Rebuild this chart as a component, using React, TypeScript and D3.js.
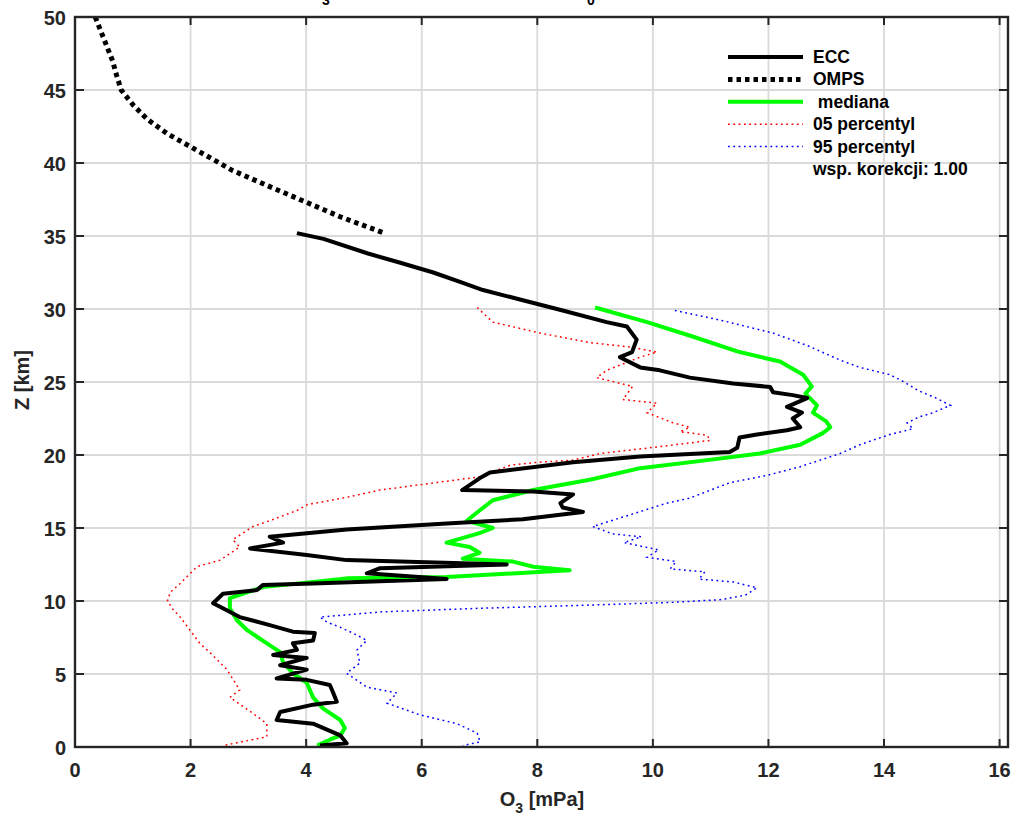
import React from "react";
import * as d3 from "d3";

// ---------- data (O3 partial pressure [mPa], altitude [km]) ----------
const eccProfile: [number, number][] = [
  [3.84, 35.2], [4.3, 34.8], [5.07, 33.8], [5.6, 33.2], [6.2, 32.5], [6.7, 31.8], [7.06, 31.3],
  [7.75, 30.6], [8.44, 29.9], [9.2, 29.1], [9.55, 28.8], [9.72, 27.9], [9.64, 27.05], [9.43, 26.7],
  [9.78, 26.0], [10.12, 25.8], [10.64, 25.3], [11.39, 24.9], [12.03, 24.66], [12.08, 24.3],
  [12.42, 24.1], [12.67, 23.9], [12.32, 23.3], [12.58, 22.9], [12.42, 22.5], [12.55, 21.9],
  [12.32, 21.7], [11.8, 21.4], [11.5, 21.2], [11.46, 20.5], [11.33, 20.2], [9.78, 19.9],
  [8.62, 19.5], [7.18, 18.8], [7.0, 18.4], [6.7, 17.6], [7.93, 17.5], [8.62, 17.3], [8.4, 16.7],
  [8.44, 16.4], [8.79, 16.1], [7.75, 15.6], [6.43, 15.3], [4.7, 14.9], [3.37, 14.4], [3.6, 14.0],
  [3.03, 13.6], [4.01, 13.15], [4.7, 12.8], [7.47, 12.5], [5.28, 12.25], [5.05, 11.9], [6.43, 11.5],
  [4.12, 11.2], [3.25, 11.1], [3.15, 10.75], [2.56, 10.5], [2.39, 9.85], [2.56, 9.5], [2.85, 8.9],
  [3.37, 8.35], [3.77, 7.9], [4.15, 7.8], [4.12, 7.3], [3.77, 7.1], [3.84, 6.65], [3.43, 6.3],
  [4.01, 6.1], [3.55, 5.6], [4.01, 5.3], [3.49, 4.7], [4.01, 4.6], [4.41, 4.25], [4.47, 3.7],
  [4.53, 3.1], [4.12, 2.9], [3.55, 2.4], [3.49, 1.85], [4.12, 1.6], [4.59, 0.8], [4.7, 0.25],
  [4.24, 0.1],
];

const ompsProfile: [number, number][] = [
  [0.35, 50], [0.45, 49], [0.55, 48], [0.65, 47], [0.72, 46], [0.8, 45], [1.0, 44], [1.25, 43],
  [1.6, 42], [2.05, 41], [2.5, 40], [2.72, 39.5], [3.3, 38.5], [3.95, 37.4], [4.6, 36.3], [5.35, 35.2],
];

const medianProfile: [number, number][] = [
  [9.0, 30.1], [9.9, 29.1], [10.7, 28.1], [11.5, 27.05], [12.2, 26.4], [12.6, 25.5], [12.75, 24.7],
  [12.64, 24.2], [12.84, 23.4], [12.77, 22.9], [13.0, 22.3], [13.07, 21.9], [12.94, 21.5],
  [12.55, 20.7], [11.85, 20.1], [10.94, 19.65], [9.78, 19.1], [8.91, 18.3], [7.93, 17.6],
  [7.23, 16.9], [7.0, 16.2], [6.78, 15.5], [7.23, 15.0], [7.0, 14.65], [6.43, 14.0], [6.83, 13.7],
  [7.0, 13.3], [6.71, 12.9], [7.58, 12.7], [7.93, 12.35], [8.56, 12.1], [6.43, 11.65], [4.7, 11.55],
  [3.25, 10.95], [2.68, 10.2], [2.68, 9.5], [2.8, 8.7], [2.98, 8.0], [3.32, 7.1], [3.55, 6.5],
  [3.6, 5.8], [3.77, 5.05], [4.01, 4.4], [4.12, 3.4], [4.29, 2.65], [4.59, 1.85], [4.67, 1.3],
  [4.59, 0.8], [4.41, 0.5], [4.19, 0.1],
];

const p05Profile: [number, number][] = [
  [6.96, 30.1], [7.23, 29.1], [8.05, 28.35], [8.91, 27.7], [9.6, 27.4], [10.07, 27.05], [9.78, 26.7],
  [9.2, 25.8], [9.03, 25.3], [9.65, 24.7], [9.48, 23.8], [10.07, 23.55], [9.9, 22.9], [10.35, 22.2],
  [10.64, 21.9], [10.47, 21.6], [10.94, 21.35], [10.99, 21.0], [10.07, 20.55], [9.08, 20.1],
  [8.62, 19.65], [8.0, 19.5], [7.53, 19.3], [7.0, 18.5], [6.32, 18.15], [5.28, 17.6], [4.7, 17.1],
  [4.02, 16.6], [3.84, 16.2], [3.37, 15.5], [3.08, 15.1], [2.73, 14.2], [2.85, 13.7], [2.51, 12.8],
  [2.11, 12.35], [1.82, 11.2], [1.65, 10.6], [1.6, 10.0], [1.7, 9.4], [1.82, 8.9], [1.99, 8.0],
  [2.16, 7.1], [2.34, 6.45], [2.63, 5.3], [2.85, 3.9], [2.68, 3.4], [3.08, 2.3], [3.32, 1.6],
  [3.32, 0.7], [2.56, 0.1],
];

const p95Profile: [number, number][] = [
  [10.38, 29.9], [11.21, 29.2], [12.08, 28.35], [12.67, 27.5], [13.24, 26.5], [13.58, 26.0],
  [14.1, 25.5], [14.35, 25.0], [14.6, 24.4], [14.9, 23.9], [15.15, 23.4], [14.85, 22.9], [14.6, 22.6],
  [14.4, 22.2], [14.5, 21.8], [14.1, 21.4], [13.8, 21.0], [13.58, 20.7], [13.24, 20.1], [12.55, 19.2],
  [11.97, 18.6], [11.33, 18.1], [10.64, 17.05], [10.24, 16.7], [9.48, 15.75], [8.96, 15.1], [9.3, 14.6],
  [9.8, 14.4], [9.5, 14.0], [10.1, 13.5], [9.9, 13.0], [10.4, 12.7], [10.3, 12.2], [10.9, 12.0],
  [10.8, 11.5], [11.4, 11.3], [11.8, 10.9], [11.6, 10.4], [11.2, 10.1], [10.3, 9.9], [8.74, 9.7],
  [7.0, 9.5], [5.28, 9.25], [4.7, 9.05], [4.24, 8.9], [4.36, 8.55], [4.59, 8.2], [4.81, 7.8],
  [5.05, 7.3], [4.88, 6.65], [4.93, 5.75], [4.7, 5.05], [5.05, 4.1], [5.57, 3.7], [5.4, 3.0],
  [5.97, 2.2], [6.61, 1.6], [6.96, 0.95], [7.01, 0.35], [6.71, 0.1],
];

const xTicks = [0, 2, 4, 6, 8, 10, 12, 14, 16];
const yTicks = [0, 5, 10, 15, 20, 25, 30, 35, 40, 45, 50];
const legendLabels = ["ECC", "OMPS", " mediana", "05 percentyl", "95 percentyl"];
const correctionLabel = "wsp. korekcji: 1.00";
const titleParts = ["O", "3", " profil ozonu, Legionowo, t", "0", " = 11:30 UTC (2020.03.15)"];

// ---------- layout ----------
const W = 1017;
const H = 819;
const left = 75;
const right = 1008;
const top = 17;
const bottom = 747;
const unitPx = (999.3 - 74.7) / 16;
const xMax = (right - left) / unitPx;

const FONT = "'Liberation Sans', Arial, Helvetica, sans-serif";

export default function App() {
  const x = d3.scaleLinear().domain([0, xMax]).range([left, right]);
  const y = d3.scaleLinear().domain([0, 50]).range([bottom, top]);
  const line = d3
    .line<[number, number]>()
    .x((d) => x(d[0]))
    .y((d) => y(d[1]));

  const axisColor = "#262626";
  const gridColor = "#dadada";

  const styles = [
    { stroke: "#000000", width: 4, dash: undefined as string | undefined },
    { stroke: "#000000", width: 5, dash: "4.5,4" },
    { stroke: "#00ff00", width: 4, dash: undefined },
    { stroke: "#ff0000", width: 1.5, dash: "1.8,3.5" },
    { stroke: "#0000ff", width: 1.5, dash: "1.8,3.5" },
  ];

  const legX1 = 728;
  const legX2 = 803;
  const legTextX = 813;
  const legY0 = 57;
  const legDy = 22.4;

  return (
    <svg
      width={W}
      height={H}
      style={{ position: "absolute", left: 0, top: 0, background: "#fff" }}
      fontFamily={FONT}
    >
      {/* Title (mostly above the visible area, as in the reference) */}
      <g fontSize={19} fontWeight="bold" fill="#000">
        <text x={321} y={-5} textAnchor="end">{titleParts[0]}</text>
        <text x={322} y={5} fontSize={14}>{titleParts[1]}</text>
        <text x={332} y={-5} textLength={254} lengthAdjust="spacing">{titleParts[2]}</text>
        <text x={587} y={5} fontSize={14}>{titleParts[3]}</text>
        <text x={597} y={-5} textLength={214} lengthAdjust="spacing">{titleParts[4]}</text>
      </g>

      {/* grid */}
      {xTicks.map((t) => (
        <line key={"gx" + t} x1={x(t)} x2={x(t)} y1={top} y2={bottom} stroke={gridColor} strokeWidth={1.8} />
      ))}
      {yTicks.map((t) => (
        <line key={"gy" + t} x1={left} x2={right} y1={y(t)} y2={y(t)} stroke={gridColor} strokeWidth={1.8} />
      ))}

      {/* profiles */}
      <path d={line(p05Profile) || ""} fill="none" stroke={styles[3].stroke} strokeWidth={styles[3].width} strokeDasharray={styles[3].dash} />
      <path d={line(p95Profile) || ""} fill="none" stroke={styles[4].stroke} strokeWidth={styles[4].width} strokeDasharray={styles[4].dash} />
      <path d={line(medianProfile) || ""} fill="none" stroke={styles[2].stroke} strokeWidth={styles[2].width} strokeLinejoin="round" />
      <path d={line(eccProfile) || ""} fill="none" stroke={styles[0].stroke} strokeWidth={styles[0].width} strokeLinejoin="round" />
      <path d={line(ompsProfile) || ""} fill="none" stroke={styles[1].stroke} strokeWidth={styles[1].width} strokeDasharray={styles[1].dash} />

      {/* axes box */}
      <rect x={left} y={top} width={right - left} height={bottom - top} fill="none" stroke={axisColor} strokeWidth={2.4} />
      {xTicks.map((t) => (
        <g key={"tx" + t}>
          <line x1={x(t)} x2={x(t)} y1={bottom} y2={bottom - 8} stroke={axisColor} strokeWidth={2} />
          <line x1={x(t)} x2={x(t)} y1={top} y2={top + 8} stroke={axisColor} strokeWidth={2} />
          <text x={x(t)} y={777} textAnchor="middle" fontSize={20} fontWeight="bold" fill="#262626">
            {t}
          </text>
        </g>
      ))}
      {yTicks.map((t) => (
        <g key={"ty" + t}>
          <line x1={left} x2={left + 9} y1={y(t)} y2={y(t)} stroke={axisColor} strokeWidth={2} />
          <line x1={right} x2={right - 9} y1={y(t)} y2={y(t)} stroke={axisColor} strokeWidth={2} />
          <text x={66} y={y(t) + 7.5} textAnchor="end" fontSize={20} fontWeight="bold" fill="#262626">
            {t}
          </text>
        </g>
      ))}

      {/* axis labels */}
      <text x={542} y={806} textAnchor="middle" fontSize={20} fontWeight="bold" fill="#262626">
        O<tspan dy={7} fontSize={14}>3</tspan>
        <tspan dy={-7}> [mPa]</tspan>
      </text>
      <text
        transform={`translate(29, 380) rotate(-90)`}
        textAnchor="middle"
        fontSize={20}
        fontWeight="bold"
        fill="#262626"
      >
        Z [km]
      </text>

      {/* legend */}
      {legendLabels.map((lab, i) => {
        const yy = legY0 + i * legDy;
        const s = styles[i];
        return (
          <g key={"leg" + i}>
            <line x1={legX1} x2={legX2} y1={yy} y2={yy} stroke={s.stroke} strokeWidth={s.width} strokeDasharray={s.dash} />
            <text x={legTextX} y={yy + 6} fontSize={17.5} fontWeight="bold" fill="#000" style={{ whiteSpace: "pre" }}>
              {lab}
            </text>
          </g>
        );
      })}
      <text x={legTextX} y={legY0 + 5 * legDy + 6} fontSize={17.5} fontWeight="bold" fill="#000">
        {correctionLabel}
      </text>
    </svg>
  );
}
